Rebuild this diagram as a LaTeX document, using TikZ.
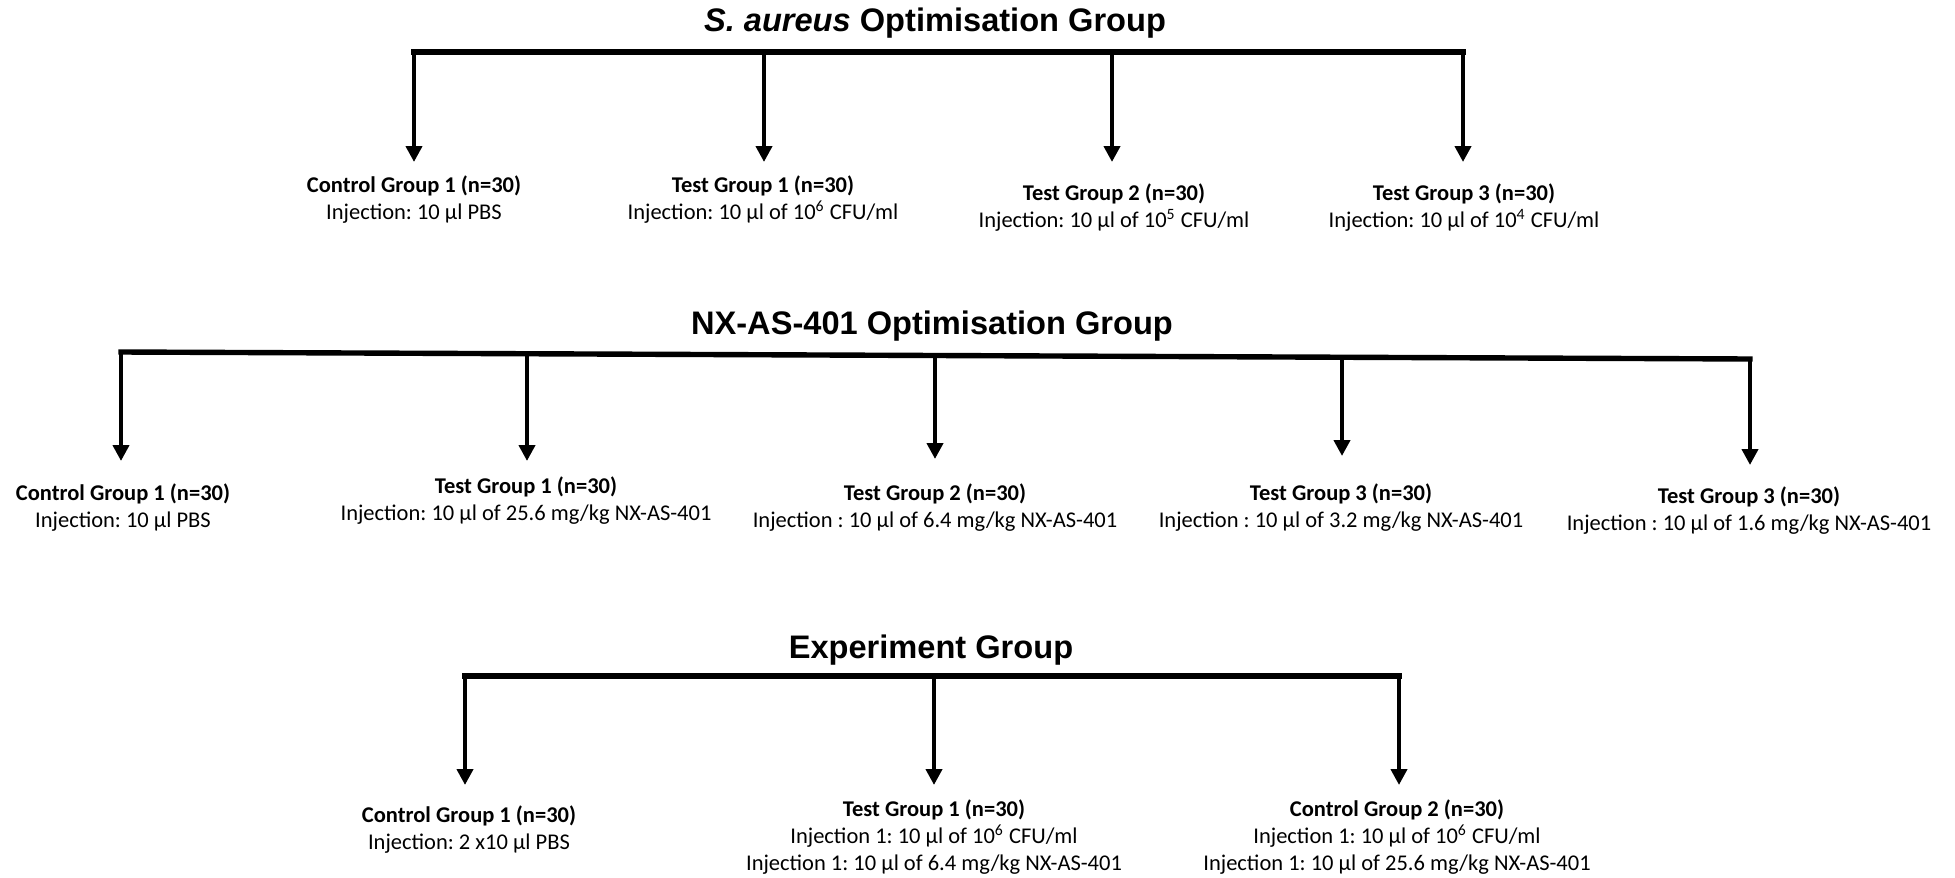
\documentclass[tikz,border=0pt]{standalone}
\usepackage{fontspec}
\setmainfont{Carlito}
\newfontfamily\headfont{Liberation Sans}
\usepackage{tikz}
\usetikzlibrary{arrows.meta,positioning}
\frenchspacing

\begin{document}
\begin{tikzpicture}[
    x=0.5pt, y=-0.5pt,
    heading/.style={font=\headfont\fontsize{16.3}{19}\selectfont\bfseries, inner sep=0pt, anchor=base},
    groupbox/.style={align=center, inner sep=0pt, anchor=north, font=\fontsize{11.25}{13.5}\selectfont},
    bar/.style={line width=2.7pt, line cap=rect},
    arrow/.style={-{Triangle[length=8pt, width=8pt]}, line width=2.2pt, shorten >=6.5pt}
]
\useasboundingbox (0,0) rectangle (1955,878);

\node[heading] (tSA) at (935,32) {\textit{S. aureus} Optimisation Group};
\coordinate (sab1) at (414,52);
\coordinate (sab2) at (764,52);
\coordinate (sab3) at (1112,52);
\coordinate (sab4) at (1463,52);
\node[groupbox] (sa1) at (414,175) {\textbf{Control Group 1 (n=30)}\\Injection: 10 µl PBS};
\node[groupbox] (sa2) at (763,175) {\textbf{Test Group 1 (n=30)}\\Injection: 10 µl of 10\textsuperscript{6} CFU/ml};
\node[groupbox] (sa3) at (1114,183) {\textbf{Test Group 2 (n=30)}\\Injection: 10 µl of 10\textsuperscript{5} CFU/ml};
\node[groupbox] (sa4) at (1464,183) {\textbf{Test Group 3 (n=30)}\\Injection: 10 µl of 10\textsuperscript{4} CFU/ml};
\draw[bar] (sab1) -- (sab4);
\draw[arrow] (sab1) -- (sab1 |- sa1.north);
\draw[arrow] (sab2) -- (sab2 |- sa2.north);
\draw[arrow, shorten >=10.5pt] (sab3) -- (sab3 |- sa3.north);
\draw[arrow, shorten >=10.5pt] (sab4) -- (sab4 |- sa4.north);

\node[heading] (tNX) at (932,334) {NX-AS-401 Optimisation Group};
\coordinate (nxb1) at (121,352);
\coordinate (nxb2) at (527,353.7);
\coordinate (nxb3) at (935,355.5);
\coordinate (nxb4) at (1342,357.2);
\coordinate (nxb5) at (1750,359);
\node[groupbox] (nx1) at (123,483) {\textbf{Control Group 1 (n=30)}\\Injection: 10 µl PBS};
\node[groupbox] (nx2) at (526,476) {\textbf{Test Group 1 (n=30)}\\Injection: 10 µl of 25.6 mg/kg NX-AS-401};
\node[groupbox] (nx3) at (935,483) {\textbf{Test Group 2 (n=30)}\\Injection : 10 µl of 6.4 mg/kg NX-AS-401};
\node[groupbox] (nx4) at (1341,483) {\textbf{Test Group 3 (n=30)}\\Injection : 10 µl of 3.2 mg/kg NX-AS-401};
\node[groupbox] (nx5) at (1749,486) {\textbf{Test Group 3 (n=30)}\\Injection : 10 µl of 1.6 mg/kg NX-AS-401};
\draw[bar] (nxb1) -- (nxb5);
\draw[arrow, shorten >=11pt] (nxb1) -- (nxb1 |- nx1.north);
\draw[arrow, shorten >=7.5pt] (nxb2) -- (nxb2 |- nx2.north);
\draw[arrow, shorten >=12pt] (nxb3) -- (nxb3 |- nx3.north);
\draw[arrow, shorten >=13.5pt] (nxb4) -- (nxb4 |- nx4.north);
\draw[arrow, shorten >=10.5pt] (nxb5) -- (nxb5 |- nx5.north);

\node[heading] (tEX) at (931,658) {Experiment Group};
\coordinate (exb1) at (465,676);
\coordinate (exb2) at (934,676);
\coordinate (exb3) at (1399,676);
\node[groupbox] (ex1) at (469,805) {\textbf{Control Group 1 (n=30)}\\Injection: 2 x10 µl PBS};
\node[groupbox] (ex2) at (934,799) {\textbf{Test Group 1 (n=30)}\\Injection 1: 10 µl of 10\textsuperscript{6} CFU/ml\\Injection 1: 10 µl of 6.4 mg/kg NX-AS-401};
\node[groupbox] (ex3) at (1397,799) {\textbf{Control Group 2 (n=30)}\\Injection 1: 10 µl of 10\textsuperscript{6} CFU/ml\\Injection 1: 10 µl of 25.6 mg/kg NX-AS-401};
\draw[bar] (exb1) -- (exb3);
\draw[arrow, shorten >=10pt] (exb1) -- (exb1 |- ex1.north);
\draw[arrow, shorten >=7pt] (exb2) -- (exb2 |- ex2.north);
\draw[arrow, shorten >=7pt] (exb3) -- (exb3 |- ex3.north);
\end{tikzpicture}
\end{document}
